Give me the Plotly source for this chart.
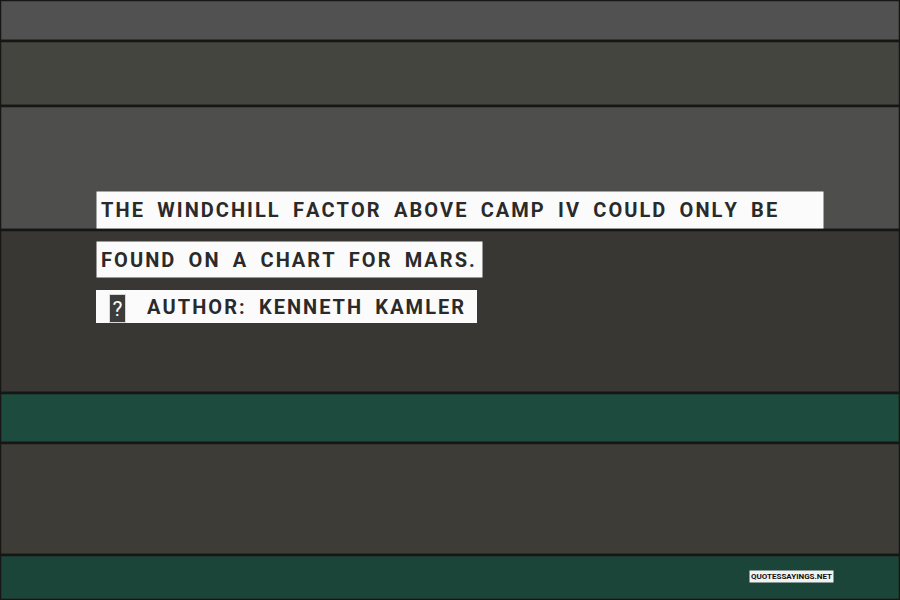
import plotly.graph_objects as go

# Background planks (top edge and height, in px of the 600 px tall picture)
plank_tops = [0, 41, 106, 230, 393, 443, 555]
plank_heights = [41, 65, 124, 163, 50, 112, 45]
plank_colors = ["#505150", "#45453f", "#4e4f4d", "#393733", "#1d4b3d", "#3e3c37", "#1b4538"]

# Quote text
quote_lines = [
    "THE WINDCHILL FACTOR ABOVE CAMP IV COULD ONLY BE",
    "FOUND ON A CHART FOR MARS.",
]
author_line = "AUTHOR: KENNETH KAMLER"
watermark = "QUOTESSAYINGS.NET"

HAIR = "\u200a"
WORD_GAP = HAIR + "\u2002" + HAIR


def spaced(s):
    return WORD_GAP.join(HAIR.join(list(w)) for w in s.split(" "))


fig = go.Figure()
fig.add_trace(go.Bar(
    x=[0] * len(plank_tops),
    y=plank_heights,
    base=plank_tops,
    width=1,
    marker=dict(color=plank_colors, line=dict(color="#161614", width=2.5)),
    hoverinfo="skip",
    showlegend=False,
))

FONT = "Roboto, Liberation Sans, sans-serif"
TXT = "#2a2a2a"
BOX = "#fbfbfb"
SIZE = 20

boxes = [
    (quote_lines[0], 96, 210, 726, 36),
    (quote_lines[1], 96, 259.5, 385, 35),
]
for text, x0, yc, w, h in boxes:
    fig.add_annotation(
        xref="paper", yref="y", x=x0 / 900, y=yc, xanchor="left", yanchor="middle",
        text=HAIR + HAIR + spaced(text), showarrow=False,
        font=dict(family=FONT, size=SIZE, color=TXT, weight=700),
        bgcolor=BOX, width=w, height=h, align="left", valign="middle", borderpad=0,
    )

# author strip: white band, missing-glyph box, then the author text
fig.add_shape(
    type="rect", xref="paper", yref="y", x0=96 / 900, x1=477 / 900, y0=290, y1=323,
    fillcolor=BOX, line=dict(width=0), layer="above",
)
fig.add_annotation(
    xref="paper", yref="y", x=109 / 900, y=308, xanchor="left", yanchor="middle",
    text="?", showarrow=False,
    font=dict(family=FONT, size=21, color="#ffffff"),
    bgcolor="#3c3c3c", bordercolor="#d8d8d8", borderwidth=1,
    width=15, height=27, align="center", valign="middle", borderpad=0,
)
fig.add_annotation(
    xref="paper", yref="y", x=146 / 900, y=306.5, xanchor="left", yanchor="middle",
    text=spaced(author_line), showarrow=False,
    font=dict(family=FONT, size=SIZE, color=TXT, weight=700),
    align="left", valign="middle", borderpad=0,
)
fig.add_annotation(
    xref="paper", yref="y", x=749 / 900, y=576, xanchor="left", yanchor="middle",
    text=watermark, showarrow=False,
    font=dict(family=FONT, size=8, color="#111111", weight=700),
    bgcolor="#f2f2f2", borderpad=1,
)

fig.update_layout(
    width=900, height=600,
    margin=dict(l=0, r=0, t=0, b=0),
    paper_bgcolor="#2c2c2a", plot_bgcolor="#2c2c2a",
    barmode="overlay",
    xaxis=dict(range=[-0.5, 0.5], visible=False, fixedrange=True),
    yaxis=dict(range=[600, 0], visible=False, fixedrange=True),
    showlegend=False,
)

fig.write_html(
    "out.html",
    config={"displayModeBar": False},
    post_script="document.body.style.margin='0';document.body.style.overflow='hidden';",
)
